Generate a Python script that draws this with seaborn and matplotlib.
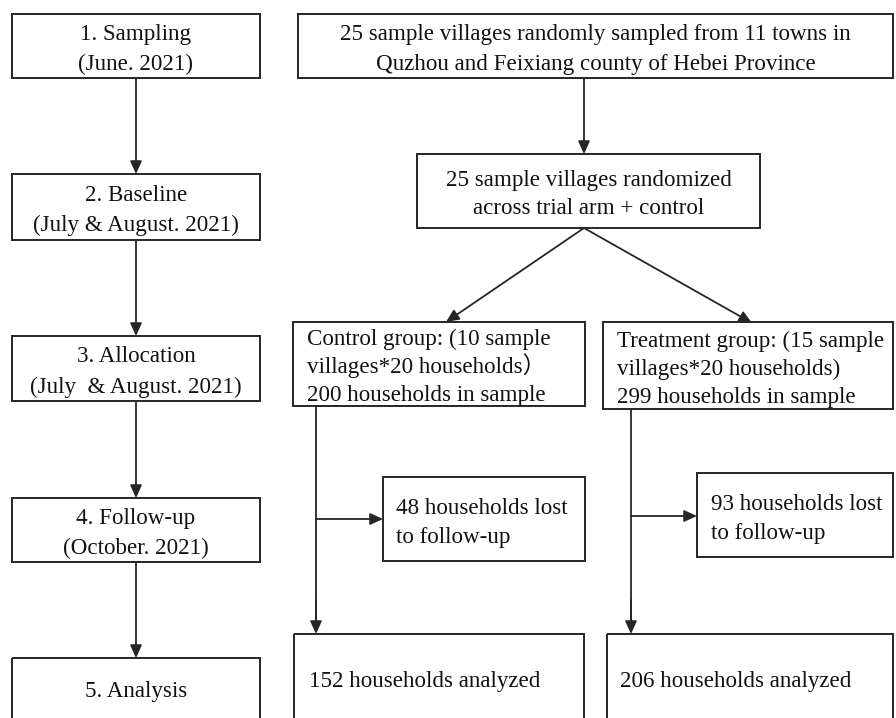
import matplotlib
matplotlib.use("Agg")
import matplotlib.pyplot as plt
import matplotlib.patches as patches
import seaborn as sns

# Flow stages (left column)
stages = ["1. Sampling\n(June. 2021)",
          "2. Baseline\n(July & August. 2021)",
          "3. Allocation\n(July  & August. 2021)",
          "4. Follow-up\n(October. 2021)",
          "5. Analysis"]

# Study numbers
n_villages = 25
n_towns = 11
control_villages = 10
treatment_villages = 15
households_per_village = 20
control_sample = 200
treatment_sample = 299
control_lost = 48
treatment_lost = 93
control_analyzed = 152
treatment_analyzed = 206

sampling_text = (f"{n_villages} sample villages randomly sampled from {n_towns} towns in\n"
                 "Quzhou and Feixiang county of Hebei Province")
random_text = f"{n_villages} sample villages randomized\nacross trial arm + control"
control_text = (f"Control group: ({control_villages} sample\n"
                f"villages*{households_per_village} households\uff09\n"
                f"{control_sample} households in sample")
treatment_text = (f"Treatment group: ({treatment_villages} sample\n"
                  f"villages*{households_per_village} households)\n"
                  f"{treatment_sample} households in sample")
lost_texts = [f"{control_lost} households lost\nto follow-up",
              f"{treatment_lost} households lost\nto follow-up"]
analyzed_texts = [f"{control_analyzed} households analyzed",
                  f"{treatment_analyzed} households analyzed"]

sns.set_theme(style="white")
plt.rcParams['font.family'] = ['Liberation Serif', 'Noto Sans CJK SC', 'DejaVu Sans']

LINE = '#262626'
TXT = '#111111'
FS = 16.6

fig = plt.figure(figsize=(8.96, 7.18), dpi=100)
ax = fig.add_axes([0, 0, 1, 1])
ax.set_xlim(0, 896)
ax.set_ylim(718, 0)
ax.axis('off')


def box(x0, y0, x1, y1, text, align='center', tx=None, ty=None, gap=29):
    ax.add_patch(patches.Rectangle((x0, y0), x1 - x0, y1 - y0, fill=False,
                                   ec=LINE, lw=1.4, clip_on=True))
    if tx is None:
        tx = (x0 + x1) / 2
    if ty is None:
        ty = (y0 + y1) / 2 + 1.5
    lines = text.split('\n')
    first = ty - gap * (len(lines) - 1) / 2
    for i, line in enumerate(lines):
        # baseline sits about half a cap height below the line centre
        ax.text(tx, first + i * gap + 7.5, line, ha=align, va='baseline',
                fontsize=FS, color=TXT)


def arrow(x0, y0, x1, y1):
    ax.annotate('', xy=(x1, y1), xytext=(x0, y0),
                arrowprops=dict(arrowstyle='-|>,head_length=0.55,head_width=0.25',
                                mutation_scale=14, color=LINE, lw=1.3,
                                shrinkA=0, shrinkB=0))


# left column
left_boxes = [(14, 78), (174, 240), (336, 401), (498, 562), (658, 728)]
for (y0, y1), label in zip(left_boxes, stages):
    ty = 690 if y1 > 718 else None
    box(12, y0, 260, y1, label, ty=ty, gap=30)
for (a, b), (c, d) in zip(left_boxes[:-1], left_boxes[1:]):
    arrow(136, b, 136, c)

# right column, top
box(298, 14, 893, 78, sampling_text, gap=30)
arrow(584, 78, 584, 154)
box(417, 154, 760, 228, random_text, gap=28)
arrow(584, 228, 446, 322)
arrow(584, 228, 752, 323)

# arms
box(293, 322, 585, 406, control_text, align='left', tx=307, ty=366, gap=28)
box(603, 322, 893, 409, treatment_text, align='left', tx=617, ty=367, gap=28)

ax.plot([316, 316], [406, 630], color=LINE, lw=1.3)
arrow(316, 600, 316, 634)
arrow(316, 519, 383, 519)
box(383, 477, 585, 561, lost_texts[0], align='left', tx=396, ty=521, gap=28)

ax.plot([631, 631], [409, 630], color=LINE, lw=1.3)
arrow(631, 600, 631, 634)
arrow(631, 516, 697, 516)
box(697, 473, 893, 557, lost_texts[1], align='left', tx=711, ty=517, gap=28)

box(294, 634, 584, 728, analyzed_texts[0], align='left', tx=309, ty=680)
box(607, 634, 893, 728, analyzed_texts[1], align='left', tx=620, ty=680)

fig.savefig('out.png', dpi=100, facecolor='white')
